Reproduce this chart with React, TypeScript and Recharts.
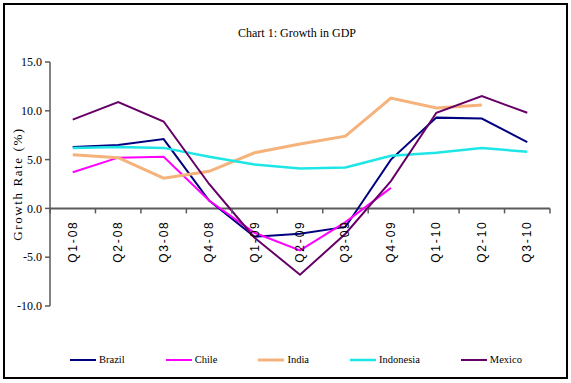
import { LineChart, Line, XAxis, YAxis, ReferenceLine } from 'recharts';

const QUARTERS = ['Q1-08', 'Q2-08', 'Q3-08', 'Q4-08', 'Q1-09', 'Q2-09', 'Q3-09', 'Q4-09', 'Q1-10', 'Q2-10', 'Q3-10'];
const BRAZIL    = [6.3, 6.5, 7.1, 0.8, -2.9, -2.6, -1.9, 5.0, 9.3, 9.2, 6.8];
const CHILE     = [3.7, 5.2, 5.3, 0.8, -2.5, -4.3, -1.4, 2.1, null, null, null];
const INDIA     = [5.5, 5.2, 3.1, 3.8, 5.7, 6.6, 7.4, 11.3, 10.3, 10.6, null];
const INDONESIA = [6.2, 6.3, 6.2, 5.3, 4.5, 4.1, 4.2, 5.4, 5.7, 6.2, 5.8];
const MEXICO    = [9.1, 10.9, 8.9, 2.5, -3.0, -6.8, -2.6, 2.8, 9.8, 11.5, 9.8];
const Y_TICKS = [-10, -5, 0, 5, 10, 15];

const SERIES = [
  { key: 'Brazil', values: BRAZIL, color: '#000080', width: 2 },
  { key: 'Chile', values: CHILE, color: '#FF00FF', width: 2 },
  { key: 'India', values: INDIA, color: '#F5B27A', width: 3 },
  { key: 'Indonesia', values: INDONESIA, color: '#1EE6E6', width: 2.5 },
  { key: 'Mexico', values: MEXICO, color: '#660066', width: 2 },
];

const data = QUARTERS.map((q, i) => {
  const row: Record<string, any> = { q };
  SERIES.forEach((s) => (row[s.key] = s.values[i]));
  return row;
});

const W = 571;
const H = 383;
const TOP = 62;
const PLOT_H = 244;
const ZERO_Y = TOP + (PLOT_H * 15) / 25;
const HALF = 500 / 22;
const AXIS = '#5a5a5a';
const SERIF = '"Liberation Serif", "Times New Roman", serif';
const SANS = '"Liberation Sans", Arial, sans-serif';

function QuarterTick(props: any) {
  const { x, index, payload } = props;
  return (
    <g>
      <line x1={x - HALF} x2={x - HALF} y1={ZERO_Y} y2={ZERO_Y + 5} stroke={AXIS} strokeWidth={1.5} />
      {index === QUARTERS.length - 1 && (
        <line x1={x + HALF} x2={x + HALF} y1={ZERO_Y} y2={ZERO_Y + 5} stroke={AXIS} strokeWidth={1.5} />
      )}
      <text
        transform={`translate(${x + 4},${ZERO_Y + 12}) rotate(-90)`}
        textAnchor="end"
        fontFamily={SANS}
        fontSize={12}
        letterSpacing={1.8}
        fill="#000"
      >
        {payload.value}
      </text>
    </g>
  );
}

export default function App() {
  return (
    <div style={{ position: 'absolute', left: 0, top: 0, width: W, height: H, background: '#fff' }}>
      <div
        style={{
          position: 'absolute',
          left: 3,
          top: 3,
          width: 565,
          height: 376,
          border: '2px solid #000',
          boxSizing: 'border-box',
        }}
      />
      <div
        style={{
          position: 'absolute',
          left: 197,
          top: 25,
          width: 200,
          textAlign: 'center',
          fontFamily: SERIF,
          fontSize: 12,
          lineHeight: '16px',
          color: '#000',
        }}
      >
        Chart 1: Growth in GDP
      </div>
      <div style={{ position: 'absolute', left: 0, top: 0 }}>
        <LineChart width={W} height={H} data={data} margin={{ top: TOP, right: 21, left: 0, bottom: 47 }}>
          <XAxis
            dataKey="q"
            height={30}
            axisLine={false}
            tickLine={false}
            interval={0}
            padding={{ left: HALF, right: HALF }}
            tick={<QuarterTick />}
          />
          <YAxis
            width={50}
            domain={[-10, 15]}
            ticks={Y_TICKS}
            tickFormatter={(v: number) => v.toFixed(1)}
            tick={{ fill: '#000', fontSize: 12, fontFamily: SERIF }}
            tickSize={5}
            tickMargin={3}
            axisLine={{ stroke: AXIS, strokeWidth: 1.5 }}
            tickLine={{ stroke: AXIS, strokeWidth: 1.5 }}
            label={{
              value: 'Growth Rate (%)',
              angle: -90,
              position: 'center',
              dx: -8,
              fill: '#000',
              fontSize: 13,
              fontFamily: SERIF,
              letterSpacing: 1.6,
            }}
          />
          <ReferenceLine y={0} stroke={AXIS} strokeWidth={2} />
          {SERIES.map((s) => (
            <Line
              key={s.key}
              type="linear"
              dataKey={s.key}
              stroke={s.color}
              strokeWidth={s.width}
              dot={false}
              activeDot={false}
              isAnimationActive={false}
            />
          ))}
        </LineChart>
      </div>
      <div
        style={{
          position: 'absolute',
          left: 70,
          top: 352,
          display: 'flex',
          gap: 41,
          alignItems: 'center',
          fontFamily: SERIF,
          fontSize: 10.5,
          lineHeight: '16px',
          color: '#000',
        }}
      >
        {SERIES.map((s) => (
          <div key={s.key} style={{ display: 'flex', alignItems: 'center' }}>
            <svg width={26} height={6} style={{ marginRight: 3 }}>
              <line x1={0} x2={26} y1={3} y2={3} stroke={s.color} strokeWidth={s.width} />
            </svg>
            <span>{s.key}</span>
          </div>
        ))}
      </div>
    </div>
  );
}
